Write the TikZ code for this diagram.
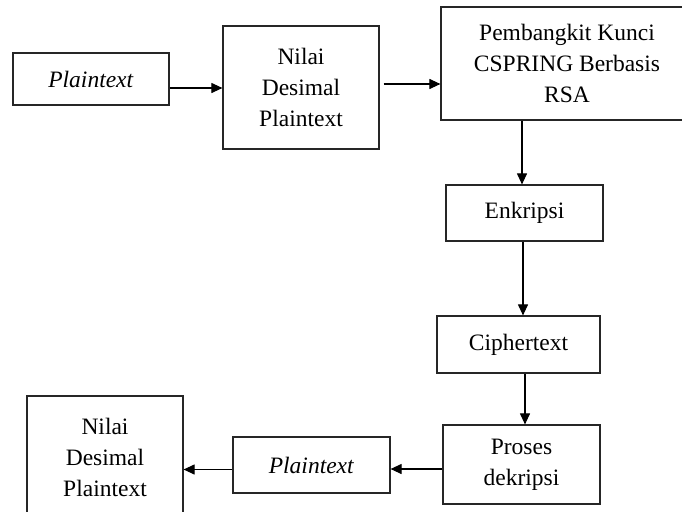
\documentclass[tikz,border=0pt]{standalone}
\usepackage{fontspec}
\setmainfont{Liberation Serif}
\usetikzlibrary{arrows.meta}
\begin{document}
\begin{tikzpicture}[x=1pt,y=-1pt,
  box/.style={draw=black!85, line width=1.2pt, rectangle, align=center, inner sep=0pt,
    font=\fontsize{23.5}{31}\selectfont},
  arr/.style={line width=1.1pt, draw=black, -{Triangle[length=11pt,width=10pt]}}]
\useasboundingbox (0,0) rectangle (682,511);
\clip (0,0) rectangle (682,511);
\fill[white] (0,0) rectangle (682,511);
\node[box, minimum width=156pt, minimum height=52pt] (p1) at (91,79) {\textit{Plaintext}};
\node[box, minimum width=156pt, minimum height=123pt] (nd1) at (301,87.5) {Nilai\\Desimal\\Plaintext};
\node[box, minimum width=252pt, minimum height=113pt] (gen) at (567,63.5) {Pembangkit Kunci\\CSPRING Berbasis\\RSA};
\node[box, minimum width=157pt, minimum height=56pt] (enc) at (524.5,213) {Enkripsi};
\node[box, minimum width=163pt, minimum height=57pt] (ciph) at (518.5,344.5) {Ciphertext};
\node[box, minimum width=157pt, minimum height=79pt] (dec) at (521.5,464.5) {Proses\\dekripsi};
\node[box, minimum width=157pt, minimum height=56pt] (p2) at (311.5,465) {\textit{Plaintext}};
\node[box, minimum width=156pt, minimum height=123pt] (nd2) at (105,457.5) {Nilai\\Desimal\\Plaintext};
\draw[arr] ([yshift=-9pt]p1.east) coordinate (a1) -- (a1 -| nd1.west);
\draw[arr] ([yshift=3.5pt,xshift=4pt]nd1.east) coordinate (a2) -- (a2 -| gen.west);
\draw[arr] ([xshift=-45pt]gen.south) coordinate (a3) -- (a3 |- enc.north);
\draw[arr] ([xshift=-1.5pt]enc.south) coordinate (a4) -- (a4 |- ciph.north);
\draw[arr] ([xshift=3.5pt]dec.north |- ciph.south) coordinate (a5) -- (a5 |- dec.north);
\draw[arr] ([yshift=-4.5pt]dec.west) coordinate (a6) -- (a6 -| p2.east);
\draw[arr] ([yshift=-4.5pt]p2.west) coordinate (a7) -- (a7 -| nd2.east);
\end{tikzpicture}
\end{document}
